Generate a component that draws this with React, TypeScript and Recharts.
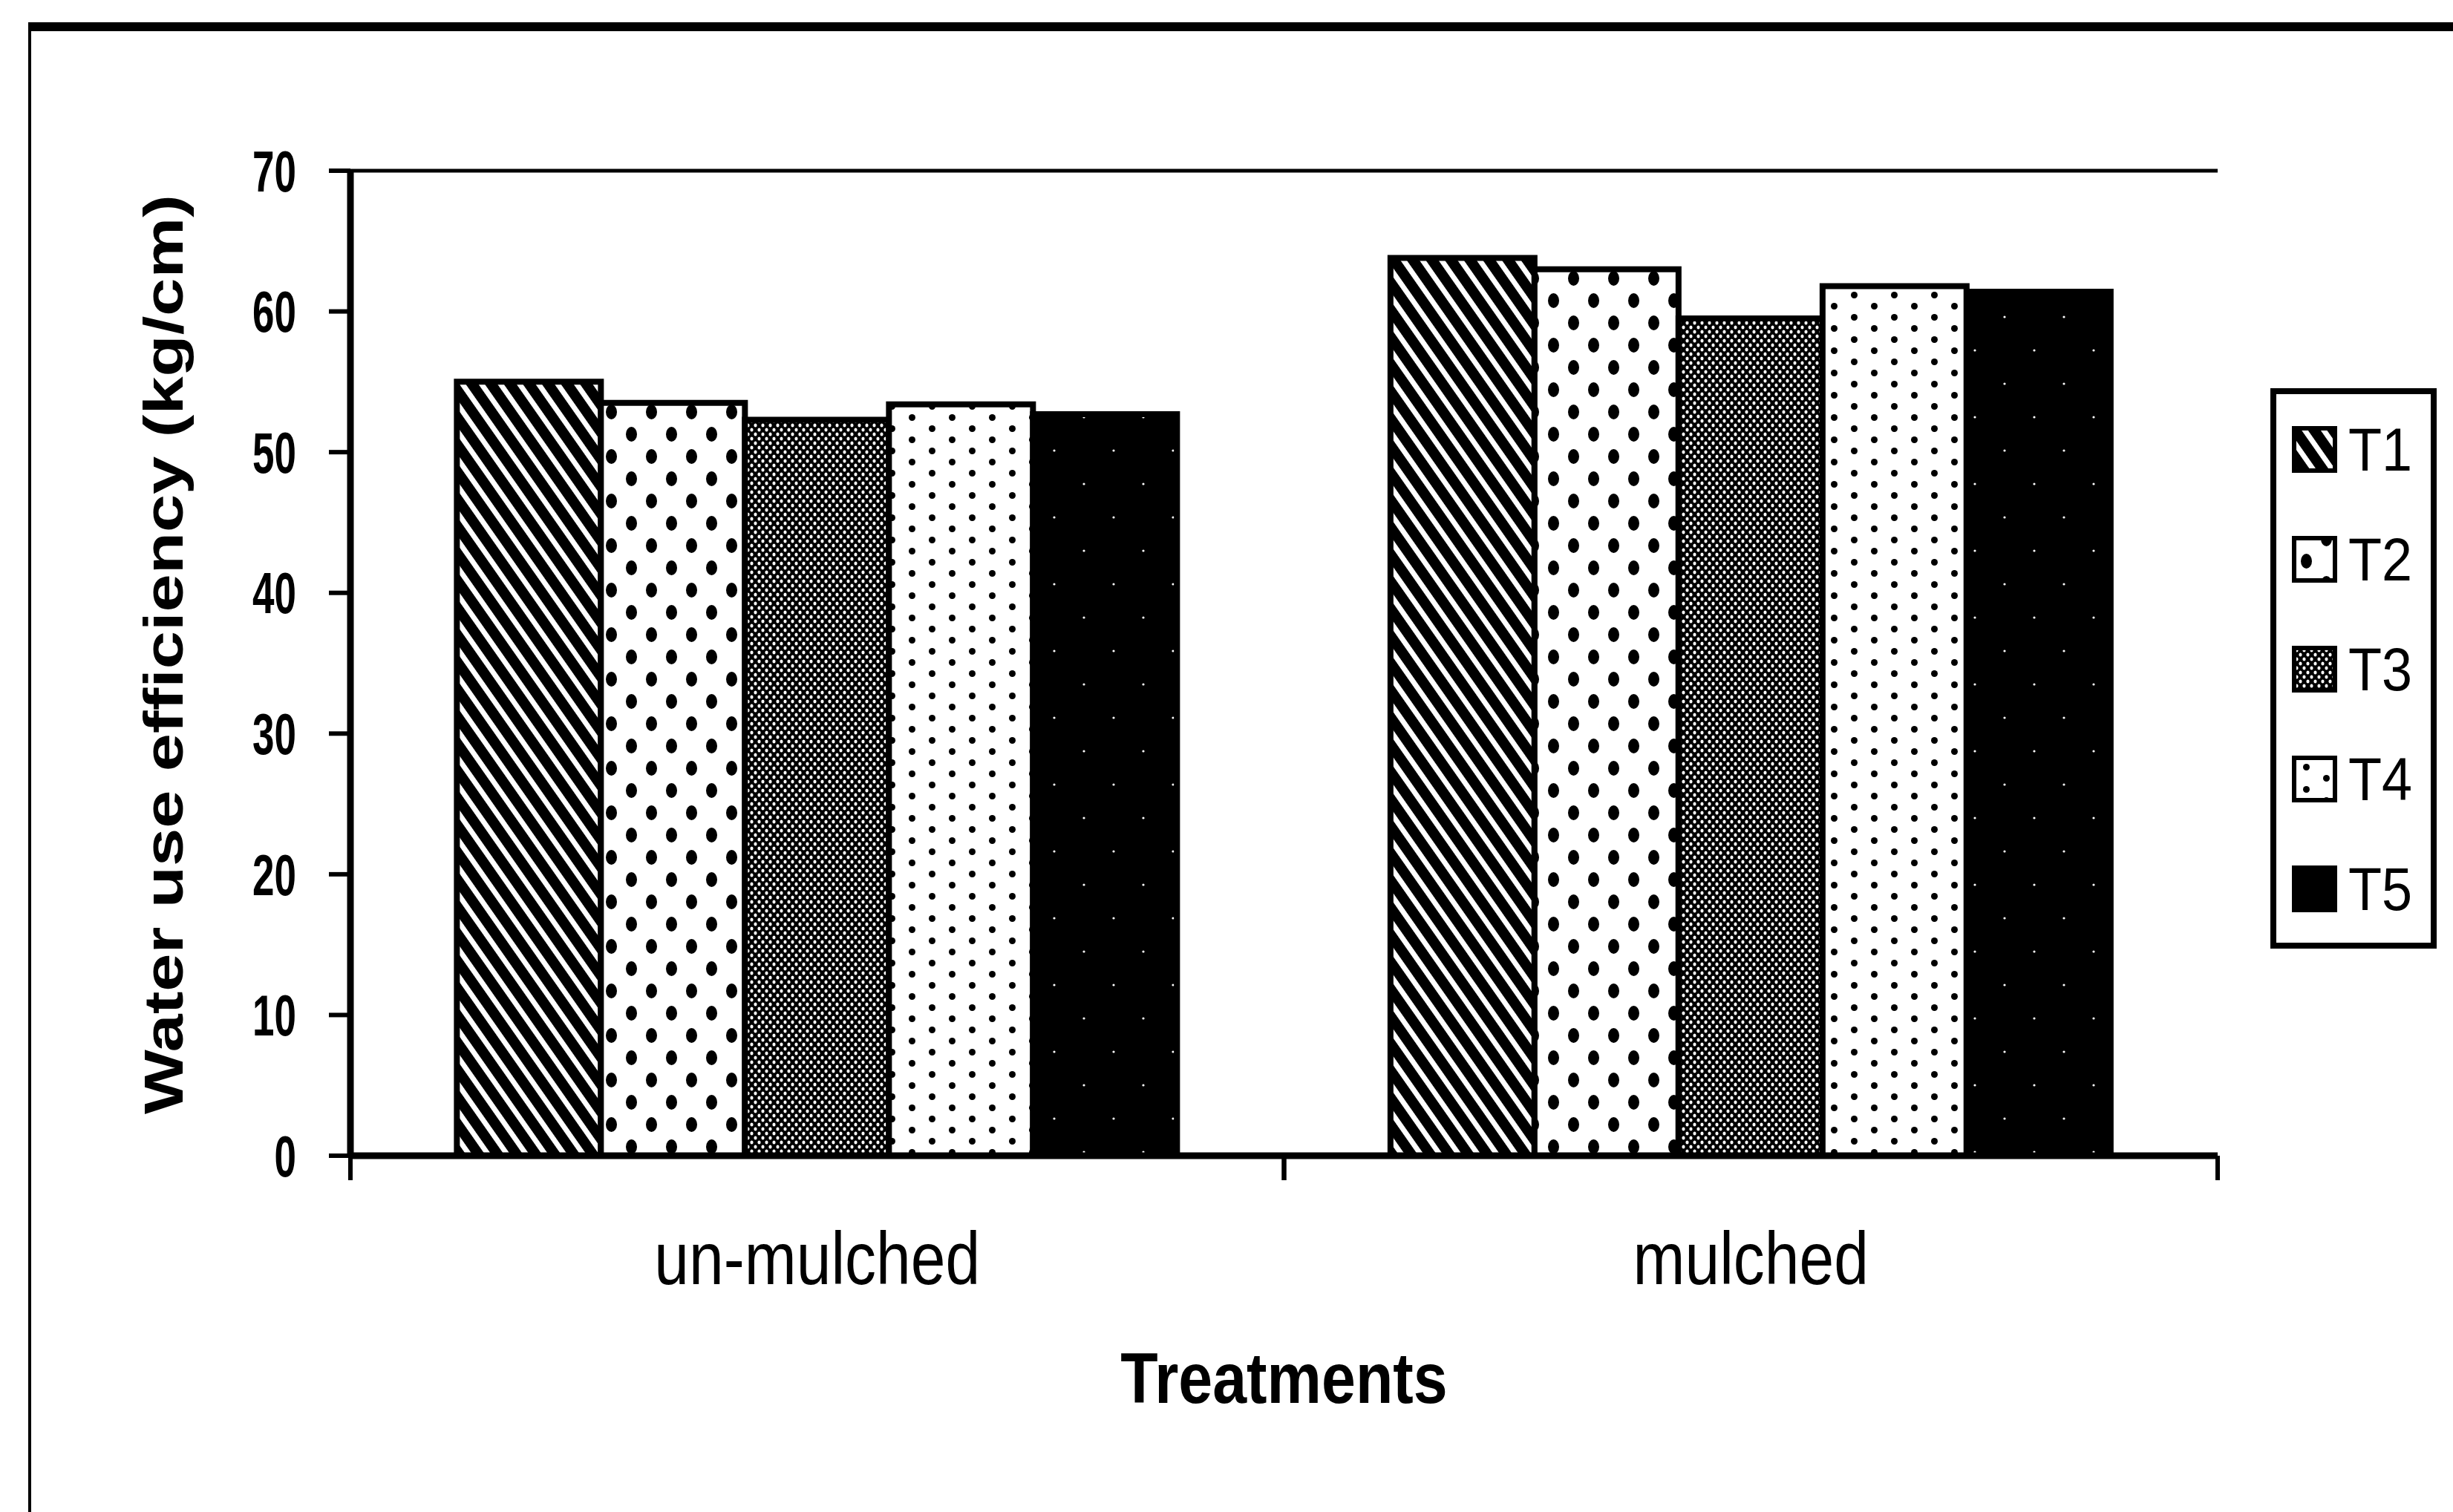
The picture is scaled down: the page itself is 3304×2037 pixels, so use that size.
import React from "react";
import { BarChart, Bar, XAxis, YAxis, Legend, ReferenceLine } from "recharts";

const treatments = ["un-mulched", "mulched"];
const seriesNames = ["T1", "T2", "T3", "T4", "T5"];
const t1 = [55.0, 63.8];
const t2 = [53.5, 63.0];
const t3 = [52.3, 59.5];
const t4 = [53.4, 61.8];
const t5 = [52.7, 61.4];
const yTicks = [0, 10, 20, 30, 40, 50, 60, 70];
const yTitle = "Water use efficiency (kg/cm)";
const xTitle = "Treatments";

const seriesValues = [t1, t2, t3, t4, t5];
const data = treatments.map((name, i) => {
  const row: Record<string, string | number> = { name };
  seriesNames.forEach((s, j) => {
    row[s] = seriesValues[j][i];
  });
  return row;
});

const FONT = "'Liberation Sans', Arial, sans-serif";
const X_TICK_MARGIN = 102;

// hatch fills, shared by bars and legend swatches
function Patterns() {
  return (
    <svg width={0} height={0} style={{ position: "absolute" }}>
      <defs>
        <pattern id="pat-T1" width={21} height={21} patternUnits="userSpaceOnUse" patternTransform="rotate(-35)">
          <rect width={21} height={21} fill="#000" />
          <rect x={0} width={7} height={21} fill="#fff" />
        </pattern>
        <pattern id="pat-T2" width={54} height={60} patternUnits="userSpaceOnUse">
          <rect width={54} height={60} fill="#fff" />
          <ellipse cx={13.5} cy={15} rx={7.5} ry={10} fill="#000" />
          <ellipse cx={40.5} cy={45} rx={7.5} ry={10} fill="#000" />
        </pattern>
        <pattern id="pat-T3" width={10} height={12} patternUnits="userSpaceOnUse">
          <rect width={10} height={12} fill="#000" />
          <ellipse cx={2.5} cy={3} rx={2.1} ry={2.5} fill="#fff" />
          <ellipse cx={7.5} cy={9} rx={2.1} ry={2.5} fill="#fff" />
        </pattern>
        <pattern id="pat-T4" width={54} height={30} patternUnits="userSpaceOnUse">
          <rect width={54} height={30} fill="#fff" />
          <circle cx={13.5} cy={7.5} r={4.5} fill="#000" />
          <circle cx={40.5} cy={22.5} r={4.5} fill="#000" />
        </pattern>
        <pattern id="pat-T5" width={80} height={90} patternUnits="userSpaceOnUse">
          <rect width={80} height={90} fill="#000" />
          <circle cx={20} cy={22} r={1.6} fill="#fff" />
          <circle cx={60} cy={67} r={1.6} fill="#fff" />
        </pattern>
      </defs>
    </svg>
  );
}

function XTick(props: any) {
  const { x, y, payload, width, visibleTicksCount } = props;
  const half = payload && payload.offset > 0 ? payload.offset : width / (visibleTicksCount || 2) / 2;
  const axisY = y - X_TICK_MARGIN;
  return (
    <g>
      <line x1={x - half} x2={x - half} y1={axisY} y2={axisY + 33} stroke="#000" strokeWidth={6} />
      <line x1={x + half} x2={x + half} y1={axisY} y2={axisY + 33} stroke="#000" strokeWidth={6} />
      <text
        transform={`translate(${x},${y + 71}) scale(0.84,1)`}
        textAnchor="middle"
        fontSize={100}
        fontFamily={FONT}
        fill="#000"
      >
        {payload.value}
      </text>
    </g>
  );
}

function YTick(props: any) {
  const { x, y, payload } = props;
  return (
    <text
      transform={`translate(${x},${y}) scale(0.68,1)`}
      textAnchor="end"
      dy="0.355em"
      fontSize={78}
      fontWeight="bold"
      fontFamily={FONT}
      fill="#000"
    >
      {payload.value}
    </text>
  );
}

function YTitle(props: any) {
  const vb = props.viewBox;
  const cx = vb.x - 101;
  const cy = vb.y + vb.height / 2 - 12;
  return (
    <text
      transform={`translate(${cx},${cy}) rotate(-90) scale(1,0.8)`}
      textAnchor="middle"
      dominantBaseline="central"
      fontSize={92}
      fontWeight="bold"
      fontFamily={FONT}
      fill="#000"
    >
      {yTitle}
    </text>
  );
}

function XTitle(props: any) {
  const vb = props.viewBox;
  return (
    <text
      transform={`translate(${vb.x + vb.width / 2},${vb.y + 333}) scale(0.86,1)`}
      textAnchor="middle"
      fontSize={96}
      fontWeight="bold"
      fontFamily={FONT}
      fill="#000"
    >
      {xTitle}
    </text>
  );
}

function LegendBox(props: any) {
  const payload = props.payload || [];
  return (
    <svg width={208} height={739} style={{ display: "block" }}>
      {payload.map((entry: any, i: number) => {
        const cy = 74 + i * 148;
        return (
          <g key={entry.value}>
            <rect x={24} y={cy - 28} width={55} height={57} fill={`url(#pat-${entry.dataKey})`} stroke="#000" strokeWidth={6} />
            <text transform={`translate(97,${cy}) scale(0.9,1)`} dy="0.355em" fontSize={82} fontFamily={FONT} fill="#000">
              {entry.value}
            </text>
          </g>
        );
      })}
    </svg>
  );
}

export default function App() {
  return (
    <div style={{ position: "fixed", left: 0, top: 0, width: 3304, height: 2037, background: "#fff", overflow: "hidden", fontFamily: FONT }}>
      <Patterns />
      {/* outer frame of the scanned figure */}
      <div
        style={{
          position: "absolute",
          left: 38,
          top: 30,
          width: 3400,
          height: 2100,
          borderTop: "12px solid #000",
          borderLeft: "4px solid #000",
        }}
      />
      <div style={{ position: "absolute", left: 0, top: 0 }}>
        <BarChart
          width={3304}
          height={2037}
          data={data}
          margin={{ top: 230, right: 93, bottom: 280, left: 322 }}
          barCategoryGap="11.4%"
          barGap={0}
        >
          <XAxis
            dataKey="name"
            height={200}
            tickSize={0}
            tickMargin={X_TICK_MARGIN}
            tickLine={false}
            axisLine={{ stroke: "#000", strokeWidth: 9 }}
            tick={<XTick />}
            label={{ content: XTitle }}
          />
          <YAxis
            domain={[0, 70]}
            ticks={yTicks}
            width={150}
            tickSize={29}
            tickMargin={44}
            tickLine={{ stroke: "#000", strokeWidth: 6 }}
            axisLine={{ stroke: "#000", strokeWidth: 9 }}
            tick={<YTick />}
            label={{ content: YTitle }}
          />
          <YAxis
            yAxisId="frame"
            orientation="right"
            domain={[0, 70]}
            width={0}
            tick={false}
            tickLine={false}
            axisLine={{ stroke: "#000", strokeWidth: 5 }}
          />
          <ReferenceLine y={70} stroke="#000" strokeWidth={5} />
          <Legend
            layout="vertical"
            align="right"
            verticalAlign="top"
            content={LegendBox}
            wrapperStyle={{
              left: 3058,
              top: 523,
              width: 224,
              height: 755,
              border: "8px solid #000",
              boxSizing: "border-box",
              background: "#fff",
              lineHeight: 0,
            }}
          />
          {seriesNames.map((s) => (
            <Bar key={s} dataKey={s} name={s} fill={`url(#pat-${s})`} stroke="#000" strokeWidth={8} isAnimationActive={false} />
          ))}
        </BarChart>
      </div>
    </div>
  );
}
